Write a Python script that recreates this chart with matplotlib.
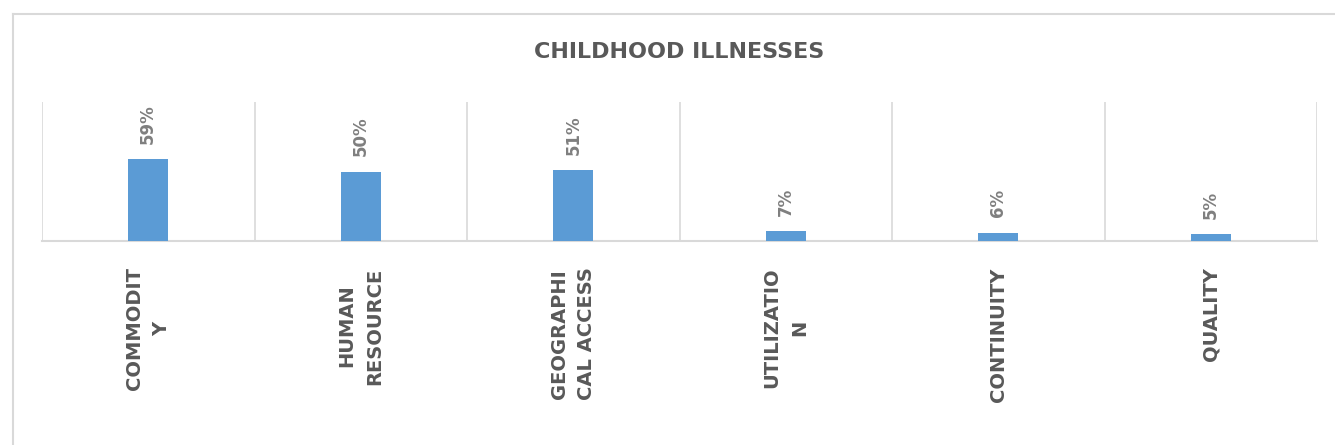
import numpy as np
import matplotlib
matplotlib.use('Agg')
import matplotlib.pyplot as plt
from matplotlib.lines import Line2D

# Data
categories = ['COMMODIT\nY', 'HUMAN\nRESOURCE', 'GEOGRAPHI\nCAL ACCESS',
              'UTILIZATIO\nN', 'CONTINUITY', 'QUALITY']
values = [0.59, 0.50, 0.51, 0.07, 0.06, 0.05]
value_labels = ['59%', '50%', '51%', '7%', '6%', '5%']
title = 'CHILDHOOD ILLNESSES'

plt.rcParams['font.family'] = ['DejaVu Sans']

W, H = 1335, 445
fig = plt.figure(figsize=(W / 100, H / 100), dpi=100)

# outer chart border: only top and left edges are inside the picture
fig.add_artist(Line2D([13 / W, 1.0], [1 - 14 / H, 1 - 14 / H],
                      transform=fig.transFigure, color='#d9d9d9', lw=1.5))
fig.add_artist(Line2D([13 / W, 13 / W], [0.0, 1 - 14 / H],
                      transform=fig.transFigure, color='#d9d9d9', lw=1.5))

ax = fig.add_axes([42 / W, 204 / H, (1317 - 42) / W, (241 - 102) / H])

x = np.arange(len(categories))
ax.bar(x, values, width=0.19, color='#5b9bd5', zorder=3)

ax.set_xlim(-0.5, len(categories) - 0.5)
ax.set_ylim(0, 1)

# category separators
for b in np.arange(-0.5, len(categories), 1.0):
    ax.axvline(b, color='#d9d9d9', linewidth=1.2, zorder=1)

for s in ['top', 'right', 'left']:
    ax.spines[s].set_visible(False)
ax.spines['bottom'].set_color('#d9d9d9')
ax.spines['bottom'].set_linewidth(1.5)
ax.set_yticks([])
ax.set_xticks([])

# value labels
for xi, v, lab in zip(x, values, value_labels):
    ax.annotate(lab, (xi, v), xytext=(0, 11), textcoords='offset points',
                rotation=90, ha='center', va='bottom', fontsize=12,
                fontweight='bold', color='#7f7f7f')

# category labels
for xi, lab in zip(x, categories):
    ax.annotate(lab, (xi, 0), xytext=(0, -19), textcoords='offset points',
                rotation=90, ha='center', va='top', fontsize=14,
                fontweight='bold', color='#595959', multialignment='center',
                linespacing=1.55)

fig.text(679 / W, 1 - 52 / H, title, ha='center', va='center', fontsize=16,
         fontweight='bold', color='#595959')

fig.savefig('out.png', dpi=100, facecolor='white')
